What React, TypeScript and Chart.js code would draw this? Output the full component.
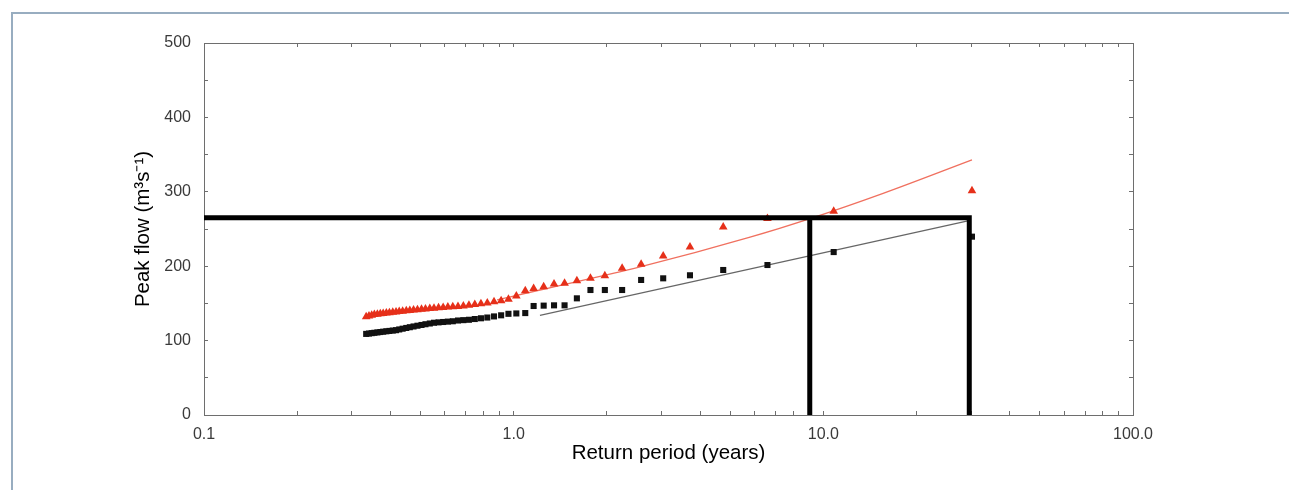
import { useEffect, useRef } from 'react';
import { Chart, registerables } from 'chart.js';

Chart.register(...registerables);

// Return period (years) of each ranked event (same for both series)
const RETURN_PERIOD = [
  30.2, 10.8, 6.6, 4.75, 3.71, 3.04, 2.58, 2.24, 1.97, 1.77,
  1.6, 1.46, 1.35, 1.25, 1.16, 1.09, 1.02, 0.962, 0.911, 0.864,
  0.822, 0.784, 0.749, 0.717, 0.688, 0.661, 0.636, 0.613, 0.592, 0.572,
  0.553, 0.536, 0.519, 0.504, 0.489, 0.475, 0.462, 0.45, 0.438, 0.427,
  0.417, 0.407, 0.397, 0.388, 0.379, 0.371, 0.363, 0.355, 0.348, 0.341,
  0.334,
];

// Red triangles: peak flow (m3/s)
const FLOW_RED = [
  301.5, 274, 264, 252.7, 225.8, 213.7, 202.6, 197.2, 187.2, 183.7,
  180.5, 177, 176, 172.4, 170, 167, 160, 155.5, 153.6, 152.3,
  150.5, 149.5, 148.5, 147.5, 146.5, 146, 145.5, 145, 144.5, 144,
  143.5, 143, 142.5, 142, 141.5, 141, 140.5, 140, 139.5, 139,
  138.5, 138, 137.5, 137, 136.5, 136, 135.5, 135, 134, 133,
  132,
];

// Black squares: peak flow (m3/s)
const FLOW_BLACK = [
  239.7, 219, 201.6, 194.9, 187.8, 183.7, 181.5, 168, 168, 168,
  156.8, 147.4, 147.4, 147, 146.5, 137, 136.5, 136, 134, 132.5,
  131, 130, 129, 128, 127.5, 127, 126, 125.5, 125, 124.5,
  124, 123, 122, 121, 120, 119, 118, 117, 116, 115,
  114, 113.5, 113, 112.5, 112, 111.5, 111, 110.5, 110, 109.5,
  109,
];

// Fitted curves
const RED_FIT_T = [0.884, 1.216, 2.56, 5.8, 9.06, 15.6, 30.2];
const RED_FIT_Q = [154.6, 168, 199, 239, 264, 298, 343];
const BLACK_FIT_T = [1.216, 29.3];
const BLACK_FIT_Q = [134, 261];

// Guide lines
const GUIDE_FLOW = 265;
const GUIDE_T1 = 9.04;
const GUIDE_T2 = 29.6;
const X_MIN = 0.1;

// Axes
const X_TICKS = [
  0.1, 0.2, 0.3, 0.4, 0.5, 0.6, 0.7, 0.8, 0.9,
  1, 2, 3, 4, 5, 6, 7, 8, 9,
  10, 20, 30, 40, 50, 60, 70, 80, 90, 100,
];
const X_MAJOR = [0.1, 1, 10, 100];
const X_LABELS = ['0.1', '1.0', '10.0', '100.0'];
const Y_TICKS = [0, 50, 100, 150, 200, 250, 300, 350, 400, 450, 500];
const Y_LABELLED = [0, 100, 200, 300, 400, 500];

const AXIS_COLOR = '#6e6e6e';
const LABEL_COLOR = '#3a3a3a';
const FONT = 'Liberation Sans, Arial, Helvetica, sans-serif';

export default function App() {
  const ref = useRef<HTMLCanvasElement | null>(null);

  useEffect(() => {
    if (!ref.current) return;
    Chart.defaults.font.family = FONT;

    const pts = (xs: number[], ys: number[]) => xs.map((x, i) => ({ x, y: ys[i] }));

    const chart = new Chart(ref.current, {
      type: 'scatter',
      data: {
        datasets: [
          {
            data: [
              { x: X_MIN, y: GUIDE_FLOW },
              { x: GUIDE_T2, y: GUIDE_FLOW },
              { x: GUIDE_T2, y: 0 },
            ],
            showLine: true,
            borderColor: '#000',
            borderWidth: 5,
            pointRadius: 0,
            xAxisID: 'x',
            yAxisID: 'y',
          },
          {
            data: [
              { x: GUIDE_T1, y: GUIDE_FLOW },
              { x: GUIDE_T1, y: 0 },
            ],
            showLine: true,
            borderColor: '#000',
            borderWidth: 5,
            pointRadius: 0,
            xAxisID: 'x',
            yAxisID: 'y',
          },
          {
            data: pts(RETURN_PERIOD, FLOW_RED),
            showLine: false,
            pointStyle: 'triangle',
            pointRadius: 5,
            pointBackgroundColor: '#e6301a',
            pointBorderWidth: 0,
            borderWidth: 0,
            xAxisID: 'x',
            yAxisID: 'y',
          },
          {
            data: pts(RETURN_PERIOD, FLOW_BLACK),
            showLine: false,
            pointStyle: 'rect',
            pointRadius: 4.3,
            pointBackgroundColor: '#111',
            pointBorderWidth: 0,
            borderWidth: 0,
            xAxisID: 'x',
            yAxisID: 'y',
          },
          {
            data: pts(RED_FIT_T, RED_FIT_Q),
            showLine: true,
            borderColor: '#f0705f',
            borderWidth: 1.3,
            pointRadius: 0,
            cubicInterpolationMode: 'monotone',
            xAxisID: 'x',
            yAxisID: 'y',
          },
          {
            data: pts(BLACK_FIT_T, BLACK_FIT_Q),
            showLine: true,
            borderColor: '#666',
            borderWidth: 1.2,
            pointRadius: 0,
            xAxisID: 'x',
            yAxisID: 'y',
          },
        ],
      },
      options: {
        responsive: false,
        animation: false,
        devicePixelRatio: 1,
        layout: { padding: { top: 35, right: 164, left: 0, bottom: 0 } },
        plugins: { legend: { display: false }, tooltip: { enabled: false } },
        scales: {
          x: {
            type: 'logarithmic',
            position: 'bottom',
            min: 0.1,
            max: 100,
            afterBuildTicks: (s: any) => {
              s.ticks = X_TICKS.map((v) => ({ value: v }));
            },
            afterFit: (s: any) => {
              s.height = 75;
            },
            ticks: {
              autoSkip: false,
              maxRotation: 0,
              minRotation: 0,
              padding: 14,
              color: LABEL_COLOR,
              font: { size: 16 },
              callback: (v: any) => {
                const i = X_MAJOR.indexOf(Number(v));
                return i >= 0 ? X_LABELS[i] : '';
              },
            },
            grid: { drawOnChartArea: false, drawTicks: true, tickLength: -4, color: AXIS_COLOR },
            border: { display: true, color: AXIS_COLOR, width: 1 },
            title: {
              display: true,
              text: 'Return period (years)',
              color: '#000',
              font: { size: 20.5 },
              padding: { top: 0, bottom: 24 },
            },
          },
          x2: {
            type: 'logarithmic',
            position: 'top',
            min: 0.1,
            max: 100,
            afterBuildTicks: (s: any) => {
              s.ticks = X_TICKS.map((v) => ({ value: v }));
            },
            afterFit: (s: any) => {
              s.height = 0;
            },
            ticks: { display: false, autoSkip: false },
            grid: { drawOnChartArea: false, drawTicks: true, tickLength: -4, color: AXIS_COLOR },
            border: { display: true, color: AXIS_COLOR, width: 1 },
          },
          y: {
            type: 'linear',
            position: 'left',
            min: 0,
            max: 500,
            afterBuildTicks: (s: any) => {
              s.ticks = Y_TICKS.map((v) => ({ value: v }));
            },
            afterFit: (s: any) => {
              s.width = 196;
            },
            ticks: {
              autoSkip: false,
              padding: 17,
              color: LABEL_COLOR,
              font: { size: 16 },
              callback: (v: any) => (Y_LABELLED.includes(Number(v)) ? String(v) : ''),
            },
            grid: { drawOnChartArea: false, drawTicks: true, tickLength: -4, color: AXIS_COLOR },
            border: { display: true, color: AXIS_COLOR, width: 1 },
            title: {
              display: true,
              text: 'Peak flow (m³s⁻¹)',
              color: '#000',
              font: { size: 20.5 },
              padding: { top: 123, bottom: 0 },
            },
          },
          y2: {
            type: 'linear',
            position: 'right',
            min: 0,
            max: 500,
            afterBuildTicks: (s: any) => {
              s.ticks = Y_TICKS.map((v) => ({ value: v }));
            },
            afterFit: (s: any) => {
              s.width = 0;
            },
            ticks: { display: false, autoSkip: false },
            grid: { drawOnChartArea: false, drawTicks: true, tickLength: -4, color: AXIS_COLOR },
            border: { display: true, color: AXIS_COLOR, width: 1 },
          },
        },
      },
    } as any);

    return () => chart.destroy();
  }, []);

  return (
    <div style={{ position: 'relative', width: 1289, height: 482, background: '#fff' }}>
      <div
        style={{
          position: 'absolute',
          left: 3,
          top: 4,
          right: 0,
          bottom: 0,
          borderLeft: '2px solid #98adc0',
          borderTop: '2px solid #98adc0',
        }}
      />
      <canvas
        ref={ref}
        width={1289}
        height={482}
        style={{ position: 'absolute', left: 0, top: 0, width: 1289, height: 482 }}
      />
    </div>
  );
}
